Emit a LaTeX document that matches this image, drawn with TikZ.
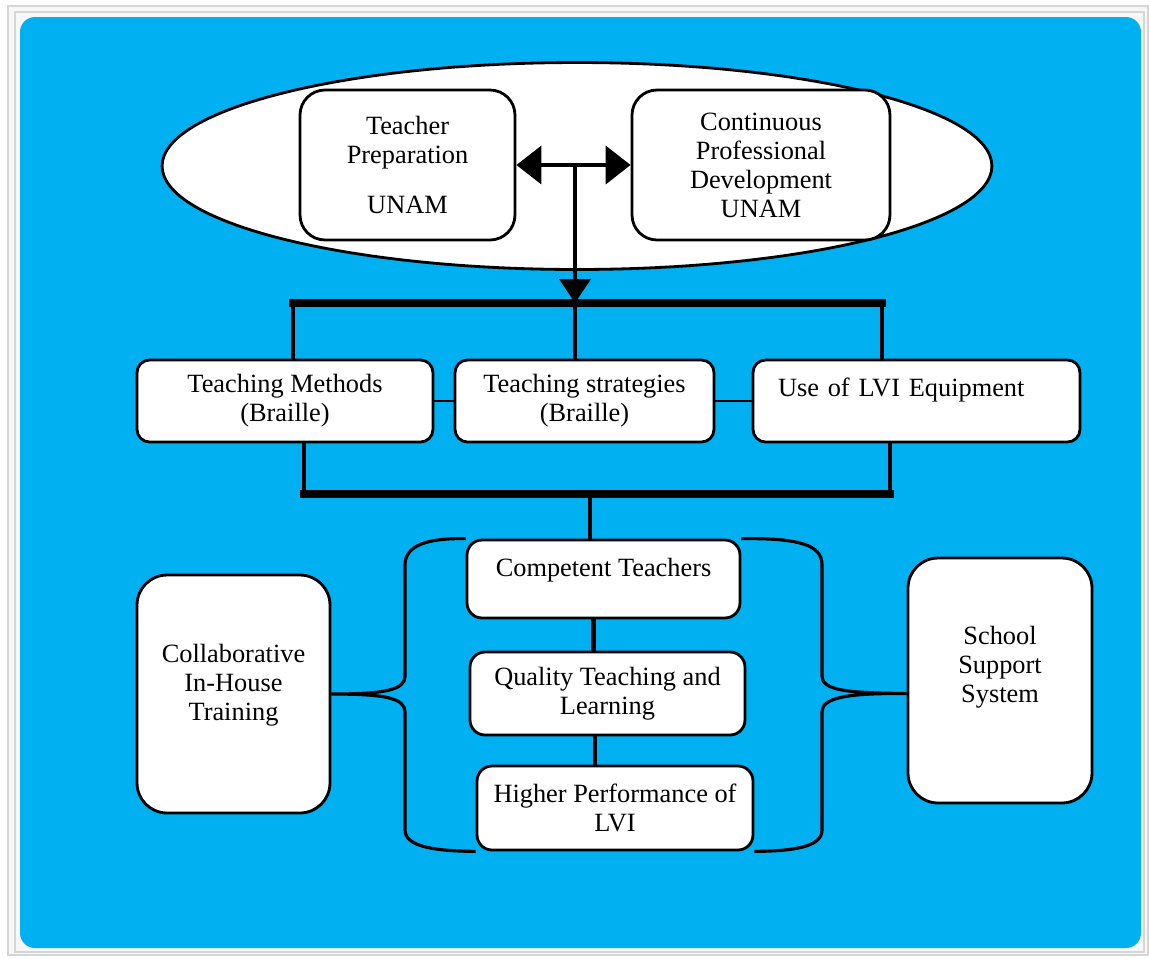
\documentclass[tikz,border=0pt]{standalone}
\usepackage{fontspec}
\setmainfont{Liberation Serif}
\usetikzlibrary{arrows.meta}
\definecolor{skyblue}{RGB}{0,176,240}
\definecolor{framegray}{RGB}{214,214,214}

\begin{document}
\begin{tikzpicture}[x=0.02cm,y=-0.02cm,
  box/.style={draw, fill=white, line width=1.6pt, align=center, inner sep=0pt,
    font=\fontsize{15}{16.5}\selectfont},
  bar/.style={line width=4.6pt, line cap=rect},
  drop/.style={line width=2.6pt},
  link/.style={line width=1.3pt},
  brace/.style={line width=1.8pt},
  bigtip/.style={line width=2.2pt}]
\useasboundingbox (0,0) rectangle (1150,958);
\draw [framegray, fill=gray!6, line width=1pt] (8,6) rectangle (1148,955);
\draw [framegray, line width=0.6pt] (15,12) rectangle (1144,952);
\fill [skyblue, rounded corners=0.3cm] (20,17) rectangle (1141,948);
\draw [line width=1.6pt, fill=white] (577,166) ellipse [x radius=8.3cm, y radius=2.07cm];

\node [box, rounded corners=0.5cm, minimum width=4.3cm, minimum height=3cm] (tp) at (407.5,165) {Teacher\\Preparation\\[0.42cm]UNAM};
\node [box, rounded corners=0.5cm, minimum width=5.16cm, minimum height=3cm] (cpd) at (761,165) {Continuous\\Professional\\Development\\UNAM};

\node [box, rounded corners=0.25cm, minimum width=5.92cm, minimum height=1.64cm] (tm) at (285,401) {Teaching Methods\\(Braille)};
\node [box, rounded corners=0.25cm, minimum width=5.18cm, minimum height=1.64cm] (ts) at (584.5,401) {Teaching strategies\\(Braille)};
\node [box, rounded corners=0.25cm, minimum width=6.54cm, minimum height=1.64cm, text width=5.54cm, align=left, text height=10.5pt, text depth=16.2pt] (lvi) at (916.5,401) {Use of LVI Equipment};

\node [box, rounded corners=0.3cm, minimum width=5.46cm, minimum height=1.56cm, text height=10.5pt, text depth=13.9pt] (ct) at (603.5,579) {Competent Teachers};
\node [box, rounded corners=0.3cm, minimum width=5.5cm, minimum height=1.66cm] (qtl) at (607.5,693.5) {Quality Teaching and\\Learning};
\node [box, rounded corners=0.3cm, minimum width=5.52cm, minimum height=1.68cm] (hp) at (615,808) {Higher Performance of\\LVI};

\node [box, rounded corners=0.6cm, minimum width=3.86cm, minimum height=4.76cm, text width=3.2cm, text height=10.5pt, text depth=46.7pt] (collab) at (233.5,694) {Collaborative\\In-House\\Training};
\node [box, rounded corners=0.6cm, minimum width=3.68cm, minimum height=4.9cm, text width=3.0cm, text height=10.5pt, text depth=51.9pt] (school) at (1000,680.5) {School\\Support\\System};

\coordinate (bartop) at (575,303);
\coordinate (barA) at (293,303);
\coordinate (barB) at (882,303);
\coordinate (lowA) at (304,494);
\coordinate (lowB) at (890,494);
\coordinate (lowC) at (590,494);

\draw [bigtip, {Triangle[length=0.5cm,width=0.76cm]}-{Triangle[length=0.5cm,width=0.76cm]}] (tp) -- (cpd);
\draw [bigtip, -{Triangle[length=0.48cm,width=0.62cm]}] (bartop |- tp) -- (bartop);

\draw [bar] (barA) -- (barB);
\draw [drop] (barA) -- (barA |- tm.north);
\draw [drop] (bartop) -- (bartop |- ts.north);
\draw [drop] (barB) -- (barB |- lvi.north);
\draw [link] (tm) -- (ts);
\draw [link] (ts) -- (lvi);

\draw [drop] (lowA |- tm.south) -- (lowA);
\draw [drop] (lowB) -- (lowB |- lvi.south);
\draw [bar] (lowA) -- (lowB);
\draw [drop] (lowC) -- (lowC |- ct.north);
\draw [drop] ([xshift=-0.2cm]ct.south) -- ([xshift=-0.2cm]ct.south |- qtl.north);
\draw [drop] ([xshift=-0.25cm]qtl.south) -- ([xshift=-0.25cm]qtl.south |- hp.north);

\draw [brace] (ct.north west) .. controls (428,538) and (405,545) .. (405,565) -- (405,676)
  .. controls (405,690) and (385,694) .. (collab.east)
  .. controls (385,694) and (405,698) .. (405,712) -- (405,830)
  .. controls (405,848) and (440,851) .. (hp.south west);
\draw [brace] (ct.north east) .. controls (800,538) and (822,545) .. (822,565) -- (822,676)
  .. controls (822,690) and (845,693) .. (school.west |- qtl)
  .. controls (845,693) and (822,698) .. (822,712) -- (822,830)
  .. controls (822,848) and (790,851) .. (hp.south east);
\end{tikzpicture}
\end{document}
